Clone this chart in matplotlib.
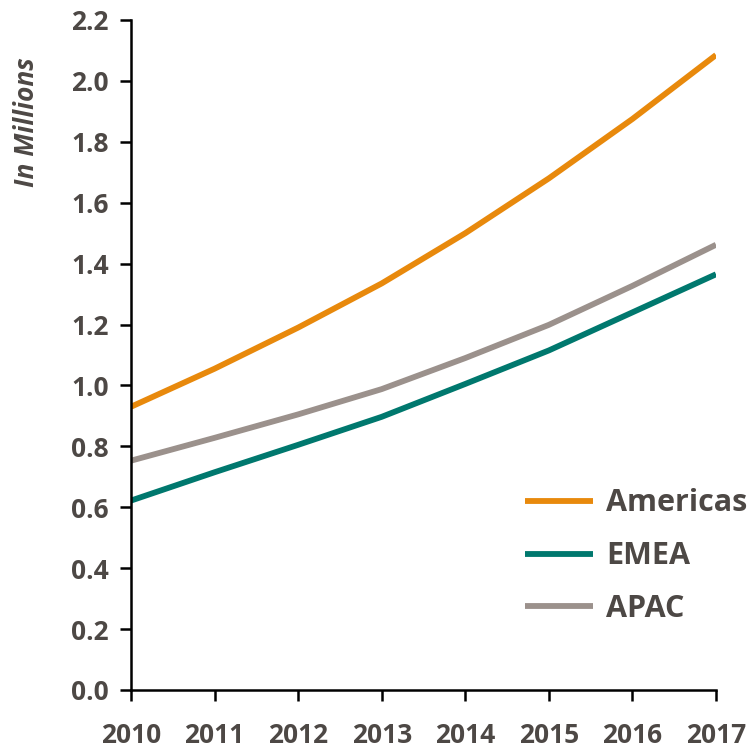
import matplotlib
matplotlib.use("Agg")
import matplotlib.pyplot as plt

years = [2010, 2011, 2012, 2013, 2014, 2015, 2016, 2017]
americas = [0.93, 1.055, 1.19, 1.335, 1.50, 1.68, 1.875, 2.085]
emea = [0.622, 0.715, 0.805, 0.897, 1.005, 1.115, 1.24, 1.365]
apac = [0.753, 0.828, 0.905, 0.988, 1.09, 1.199, 1.327, 1.462]
series_names = ["Americas", "EMEA", "APAC"]
colors = ["#E8890C", "#00786E", "#9B918C"]
yticks = [0.0, 0.2, 0.4, 0.6, 0.8, 1.0, 1.2, 1.4, 1.6, 1.8, 2.0, 2.2]

txt = "#4D4845"
plt.rcParams['font.family'] = ['Open Sans', 'DejaVu Sans']

fig = plt.figure(figsize=(7.52, 7.54), dpi=100)
ax = fig.add_axes([131/752, 64/754, (716-131)/752, (690-20)/754])

lines = []
for vals, name, c in zip([americas, emea, apac], series_names, colors):
    l, = ax.plot(years, vals, color=c, lw=4.2, label=name, solid_capstyle='butt')
    lines.append(l)

ax.set_xlim(2010, 2017)
ax.set_ylim(0, 2.2)
ax.set_yticks(yticks)
ax.set_yticklabels([f"{v:.1f}" for v in yticks])
ax.set_xticks(years)
ax.set_xticklabels([str(y) for y in years])
for s in ["top", "right"]:
    ax.spines[s].set_visible(False)
for s in ["left", "bottom"]:
    ax.spines[s].set_linewidth(1.8)
    ax.spines[s].set_color("black")
ax.tick_params(axis='y', direction='out', length=8, width=1.8, pad=8,
               labelsize=19, labelcolor=txt)
ax.tick_params(axis='x', direction='out', length=8, width=1.8, pad=15,
               labelsize=19, labelcolor=txt)
for lab in ax.get_xticklabels() + ax.get_yticklabels():
    lab.set_fontweight('bold')

fig.text(27/752, 1 - 122/754, "In Millions", rotation=90, ha='center', va='center',
         fontsize=19, fontweight='bold', fontstyle='italic', color=txt)

leg = ax.legend(handles=lines, loc='lower right', bbox_to_anchor=(1.075, 0.08),
                frameon=False, fontsize=22, handlelength=2.2, handletextpad=0.45,
                labelspacing=0.75, borderaxespad=0)
for t in leg.get_texts():
    t.set_fontweight('bold')
    t.set_color(txt)

fig.savefig("out.png", dpi=100)
